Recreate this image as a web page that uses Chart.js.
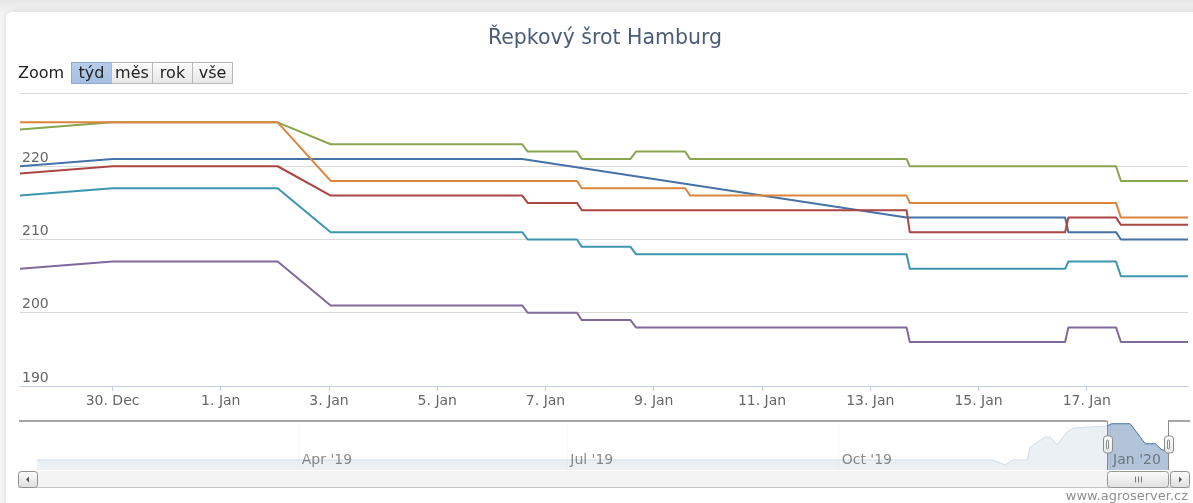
<!DOCTYPE html>
<html lang="cs">
<head>
<meta charset="utf-8">
<title>Řepkový šrot Hamburg</title>
<script src="https://cdn.jsdelivr.net/npm/chart.js@4.4.1/dist/chart.umd.min.js"></script>
<style>
  html, body { margin: 0; padding: 0; }
  body {
    width: 1193px; height: 503px; overflow: hidden; position: relative;
    background: linear-gradient(#e6e6e6, #f6f6f6 14px, #f6f6f6);
    font-family: "DejaVu Sans", sans-serif;
  }
  .card {
    position: absolute; left: 6px; top: 12px; width: 1200px; height: 500px;
    background: #fff; border-radius: 6px; box-shadow: 0 0 7px rgba(0,0,0,0.13);
  }
  canvas { position: absolute; left: 0; top: 0; }
  #title {
    position: absolute; left: 0; top: 25px; width: 1210px; text-align: center;
    font-size: 20.5px; line-height: 24px; color: #4a5d78;
  }
  #zoomLabel {
    position: absolute; left: 18px; top: 62px; font-size: 16px; line-height: 22px; color: #222;
  }
  .btn {
    position: absolute; top: 62px; height: 22px; box-sizing: border-box;
    border: 1px solid #b8b8b8; background: linear-gradient(#fcfcfc, #e8e8e8);
    font-size: 16px; line-height: 20px; text-align: center; color: #222;
  }
  .btn.sel { background: linear-gradient(#b7cdea, #a4bfe3); border-color: #8eaad0; }
  #credits {
    position: absolute; right: 5px; top: 488px; font-size: 13px; line-height: 15px; color: #909090;
  }
</style>
</head>
<body>
<div class="card"></div>
<canvas id="main" width="1193" height="503"></canvas>
<canvas id="nav" width="1193" height="503"></canvas>
<div id="title">Řepkový šrot Hamburg</div>
<div id="zoomLabel">Zoom</div>
<div class="btn sel" style="left:71px;width:41px">týd</div>
<div class="btn" style="left:111px;width:42px">měs</div>
<div class="btn" style="left:152px;width:41px">rok</div>
<div class="btn" style="left:192px;width:41px">vše</div>
<div id="credits">www.agroserver.cz</div>
<script>
// hlavní graf: čas ve dnech od 30. 12. 2019
const pointDays = [-1.71, 0, 3.05, 4.03, 7.57, 7.67, 8.58, 8.67, 9.57, 9.67, 10.58, 10.67, 14.67, 14.73, 17.6, 17.66, 18.54, 18.63, 19.9];
const xMin = -1.71, xMax = 19.87;
const xTickDays = [0, 2, 4, 6, 8, 10, 12, 14, 16, 18];
const xTickLabels = ['30. Dec', '1. Jan', '3. Jan', '5. Jan', '7. Jan', '9. Jan', '11. Jan', '13. Jan', '15. Jan', '17. Jan'];

const series1 = [220, 221, 221, 221, 221, null, null, null, null, null, null, null, 213, 213, 213, 211, 211, 210, 210];
const series2 = [219, 220, 220, 216, 216, 215, 215, 214, 214, 214, 214, 214, 214, 211, 211, 213, 213, 212, 212];
const series3 = [225, 226, 226, 223, 223, 222, 222, 221, 221, 222, 222, 221, 221, 220, 220, 220, 220, 218, 218];
const series4 = [206, 207, 207, 201, 201, 200, 200, 199, 199, 198, 198, 198, 198, 196, 196, 198, 198, 196, 196];
const series5 = [216, 217, 217, 211, 211, 210, 210, 209, 209, 208, 208, 208, 208, 206, 206, 207, 207, 205, 205];
const series6 = [226, 226, 226, 218, 218, 218, 218, 217, 217, 217, 217, 216, 216, 215, 215, 215, 215, 213, 213];

// navigátor: čas ve dnech od 1. 1. 2020
const navDays = [-363.7, -39.7, -35.6, -33.2, -28.1, -27.1, -22, -20.3, -18, -14.6, -12.5, -1, 0.5, 6.8, 11.9, 15.3, 17.6, 19.7];
const navValues = [206.5, 206.5, 204.5, 206.5, 206.5, 211.7, 215.7, 215.7, 212.5, 217.7, 219.3, 220.1, 221, 221, 213, 213, 210.5, 210.5];
const navMin = -369.5, navMax = 26.4;
const navTickDays = [-275, -184, -92, 0];
const navTickLabels = ["Apr '19", "Jul '19", "Oct '19", "Jan '20"];
const selectedRange = [-1.0, 19.66];

const colors = ['#4572A7', '#AA4643', '#89A54E', '#80699B', '#3D96AE', '#DB843D'];
const allSeries = [series1, series2, series3, series4, series5, series6];
const fontFamily = '"DejaVu Sans", sans-serif';

function toPoints(values) {
  return values.map((v, i) => ({ x: pointDays[i], y: v }));
}

// Highcharts kreslí poslední řadu navrch, Chart.js naopak
const datasets = allSeries.map((vals, i) => ({
  label: 'Řada ' + (i + 1),
  data: toPoints(vals),
  borderColor: colors[i],
  borderWidth: 2,
  pointRadius: 0,
  tension: 0,
  spanGaps: true,
  fill: false,
  borderJoinStyle: 'round',
  borderCapStyle: 'round'
})).reverse();

new Chart(document.getElementById('main'), {
  type: 'line',
  data: { datasets: datasets },
  options: {
    responsive: false,
    animation: false,
    events: [],
    layout: { padding: { left: 20, right: 5, top: 93, bottom: 88 } },
    plugins: { legend: { display: false }, tooltip: { enabled: false } },
    scales: {
      x: {
        type: 'linear',
        min: xMin,
        max: xMax,
        afterBuildTicks: s => { s.ticks = xTickDays.map(v => ({ value: v })); },
        afterFit: s => { s.height = 29; },
        grid: { drawOnChartArea: false, drawTicks: true, tickLength: 5, color: '#C0D0E0' },
        border: { color: '#C0D0E0', width: 1 },
        ticks: {
          callback: (v, i) => xTickLabels[i],
          font: { family: fontFamily, size: 14 },
          color: '#666',
          padding: 2,
          maxRotation: 0,
          autoSkip: false
        }
      },
      y: {
        min: 190,
        max: 230,
        afterFit: s => { s.width = 0; },
        grid: {
          drawTicks: false,
          color: ctx => ctx.tick && ctx.tick.value === 190 ? 'rgba(0,0,0,0)' : '#d9d9d9'
        },
        border: { display: false },
        ticks: {
          stepSize: 10,
          mirror: true,
          padding: 2,
          labelOffset: -8,
          callback: v => v === 230 ? '' : v,
          font: { family: fontFamily, size: 14 },
          color: '#666'
        }
      }
    }
  }
});

function roundBox(ctx, x, y, w, h, r, fillTop, fillBottom, stroke) {
  const g = ctx.createLinearGradient(0, y, 0, y + h);
  g.addColorStop(0, fillTop);
  g.addColorStop(1, fillBottom);
  ctx.beginPath();
  ctx.roundRect(x + 0.5, y + 0.5, w - 1, h - 1, r);
  ctx.fillStyle = g;
  ctx.fill();
  ctx.strokeStyle = stroke;
  ctx.lineWidth = 1;
  ctx.stroke();
}

const navigatorDecor = {
  id: 'navigatorDecor',
  afterDatasetsDraw(chart) {
    const { ctx, chartArea: a, scales: { x } } = chart;
    const x1 = x.getPixelForValue(selectedRange[0]);
    const x2 = x.getPixelForValue(selectedRange[1]);
    ctx.save();
    ctx.fillStyle = 'rgba(255,255,255,0.75)';
    ctx.fillRect(a.left, a.top, x1 - a.left, a.bottom - a.top);
    ctx.fillRect(x2, a.top, a.right - x2, a.bottom - a.top);
    ctx.restore();
  },
  afterDraw(chart) {
    const { ctx, chartArea: a, scales: { x } } = chart;
    const x1 = Math.round(x.getPixelForValue(selectedRange[0]));
    const x2 = Math.round(x.getPixelForValue(selectedRange[1]));
    ctx.save();
    // obrys
    ctx.strokeStyle = '#a6a6a6';
    ctx.lineWidth = 2;
    ctx.beginPath();
    ctx.moveTo(a.left - 1, a.top);
    ctx.lineTo(x1, a.top);
    ctx.moveTo(x2, a.top);
    ctx.lineTo(a.right + 2, a.top);
    ctx.stroke();
    ctx.strokeStyle = '#8a8a8a';
    ctx.lineWidth = 1;
    ctx.beginPath();
    ctx.moveTo(x1 + 0.5, a.top);
    ctx.lineTo(x1 + 0.5, a.bottom);
    ctx.moveTo(x2 + 0.5, a.top);
    ctx.lineTo(x2 + 0.5, a.bottom);
    ctx.stroke();

    // posuvník
    const top = a.bottom + 1, h = 16;
    const left = a.left - 2, right = a.right + 2;
    ctx.fillStyle = '#f3f3f3';
    ctx.fillRect(left, top, right - left, h);
    ctx.strokeStyle = '#c4c4c4';
    ctx.beginPath();
    ctx.moveTo(left, top + h + 0.5);
    ctx.lineTo(right, top + h + 0.5);
    ctx.stroke();
    roundBox(ctx, left, top, 20, h + 1, 3, '#fdfdfd', '#dedede', '#8f8f8f');
    roundBox(ctx, right - 20, top, 20, h + 1, 3, '#fdfdfd', '#dedede', '#8f8f8f');
    roundBox(ctx, x1, top, x2 - x1 + 1, h + 1, 3, '#fbfbfb', '#e0e0e0', '#969696');
    const cy = top + h / 2 + 0.5;
    ctx.fillStyle = '#555';
    ctx.beginPath();
    ctx.moveTo(left + 8, cy);
    ctx.lineTo(left + 11, cy - 3);
    ctx.lineTo(left + 11, cy + 3);
    ctx.closePath();
    ctx.fill();
    ctx.beginPath();
    ctx.moveTo(right - 8, cy);
    ctx.lineTo(right - 11, cy - 3);
    ctx.lineTo(right - 11, cy + 3);
    ctx.closePath();
    ctx.fill();
    const mid = Math.round((x1 + x2) / 2);
    ctx.strokeStyle = '#7a7a7a';
    ctx.beginPath();
    for (const dx of [-3, 0, 3]) {
      ctx.moveTo(mid + dx + 0.5, cy - 3);
      ctx.lineTo(mid + dx + 0.5, cy + 3);
    }
    ctx.stroke();

    // úchyty
    const hy = (a.top + a.bottom) / 2 - 10;
    for (const hx of [x1, x2]) {
      roundBox(ctx, hx - 4, hy, 10, 18, 3, '#ffffff', '#e6e6e6', '#8c8c8c');
      ctx.strokeStyle = '#8c8c8c';
      ctx.beginPath();
      ctx.roundRect(hx - 0.5, hy + 4.5, 2, 9, 1);
      ctx.stroke();
    }
    ctx.restore();
  }
};

new Chart(document.getElementById('nav'), {
  type: 'line',
  data: {
    datasets: [{
      data: navDays.map((d, i) => ({ x: d, y: navValues[i] })),
      borderColor: '#4572A7',
      borderWidth: 1,
      backgroundColor: 'rgba(69,114,167,0.42)',
      fill: 'start',
      pointRadius: 0,
      tension: 0
    }]
  },
  options: {
    responsive: false,
    animation: false,
    events: [],
    layout: { padding: { left: 20, right: 5, top: 421, bottom: 33 } },
    plugins: { legend: { display: false }, tooltip: { enabled: false } },
    scales: {
      x: {
        type: 'linear',
        min: navMin,
        max: navMax,
        afterBuildTicks: s => { s.ticks = navTickDays.map(v => ({ value: v })); },
        afterFit: s => { s.height = 0; },
        grid: { drawTicks: false, color: '#ececec' },
        border: { display: false },
        ticks: {
          z: 1,
          callback: (v, i) => navTickLabels[i],
          mirror: true,
          align: 'start',
          labelOffset: 3,
          padding: 1,
          maxRotation: 0,
          autoSkip: false,
          font: { family: fontFamily, size: 14 },
          color: 'rgba(70,70,70,0.62)'
        }
      },
      y: { display: false, min: 202.5, max: 222.1 }
    }
  },
  plugins: [navigatorDecor]
});
</script>
</body>
</html>
